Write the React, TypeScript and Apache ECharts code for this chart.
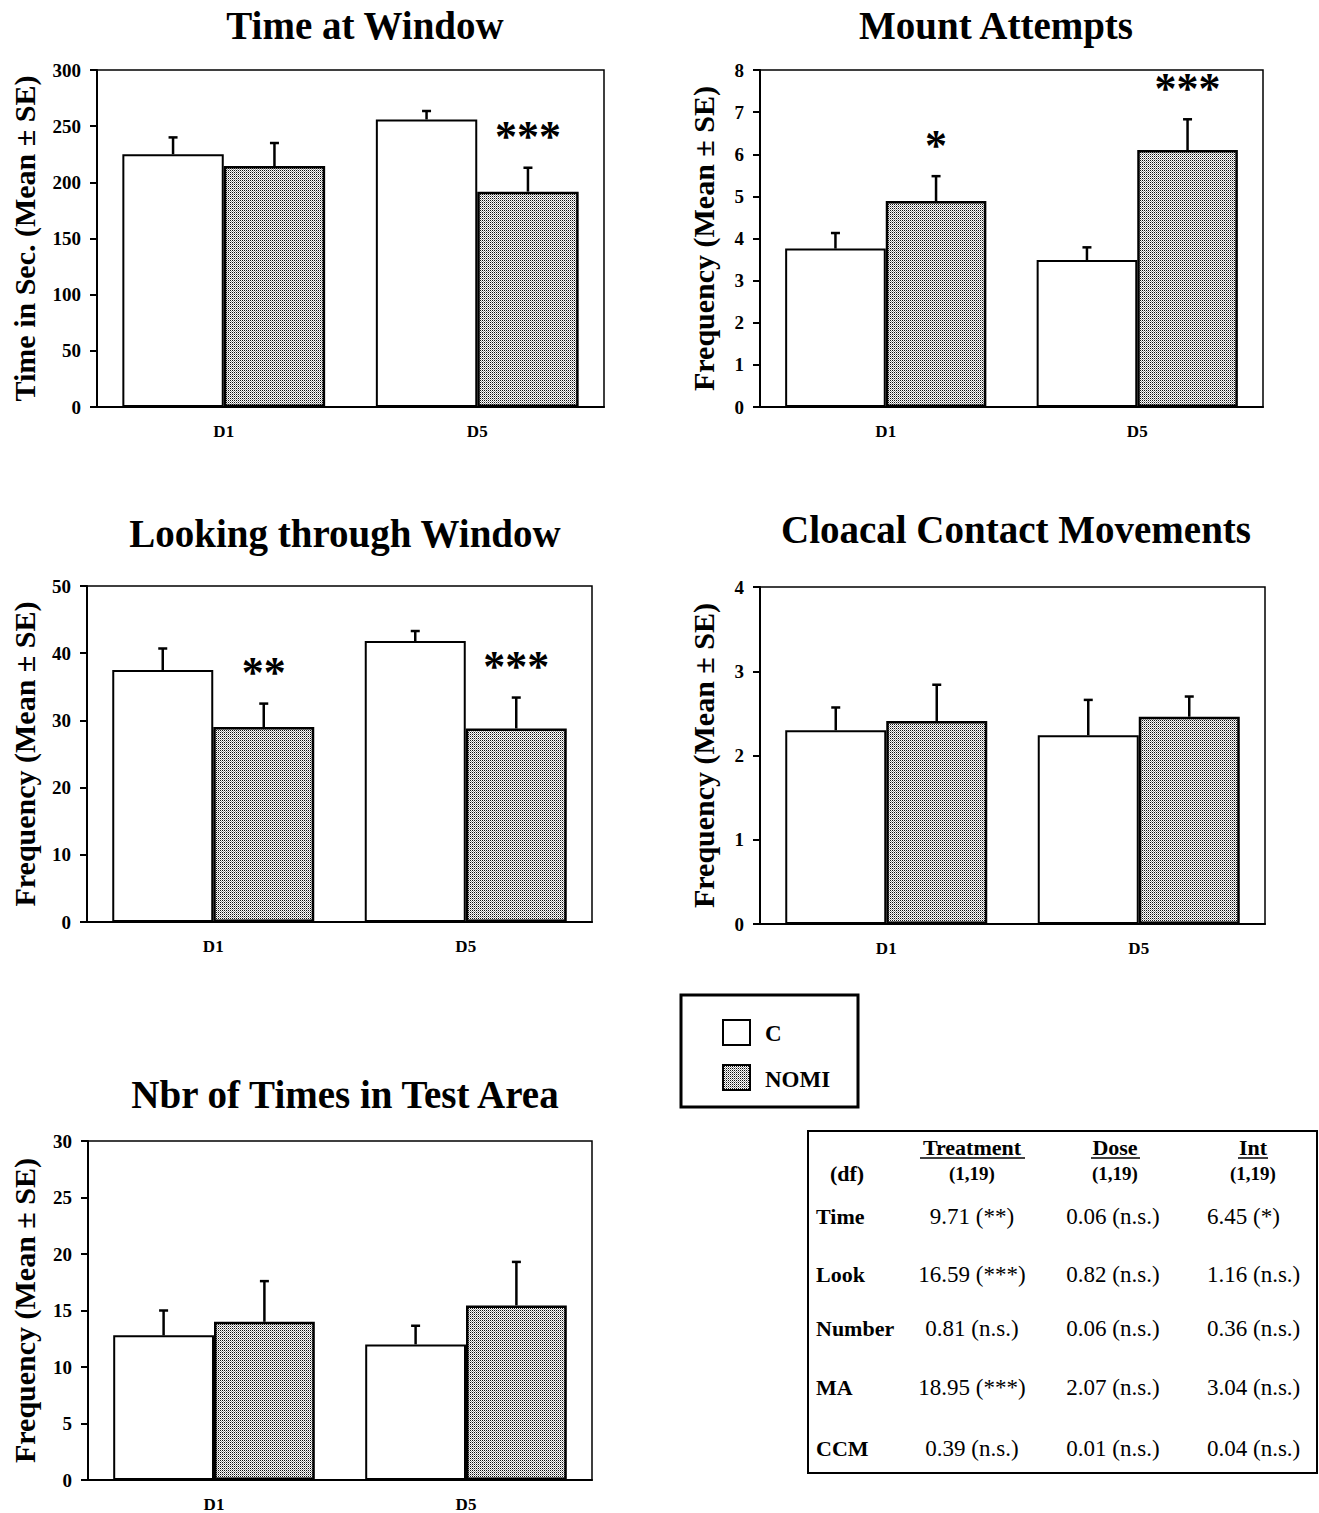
import React, { useEffect, useRef } from 'react';
import * as echarts from 'echarts';

const categories = ['D1', 'D5'];
const groups = ['C', 'NOMI'];

const panelTitles = [
  'Time at Window',
  'Mount Attempts',
  'Looking through Window',
  'Cloacal Contact Movements',
  'Nbr of Times in Test Area',
];
const yAxisNames = [
  'Time in Sec. (Mean ± SE)',
  'Frequency (Mean ± SE)',
  'Frequency (Mean ± SE)',
  'Frequency (Mean ± SE)',
  'Frequency (Mean ± SE)',
];
const yMax = [300, 8, 50, 4, 30];
const yStep = [50, 1, 10, 1, 5];

// Means and standard errors: [D1, D5]
const timeC = [225, 256];
const timeCse = [15, 7.5];
const timeN = [214.5, 191.7];
const timeNse = [20.5, 21.3];

const mountC = [3.76, 3.49];
const mountCse = [0.37, 0.3];
const mountN = [4.89, 6.1];
const mountNse = [0.59, 0.73];

const lookC = [37.5, 41.8];
const lookCse = [3.2, 1.5];
const lookN = [29.0, 28.8];
const lookNse = [3.5, 4.6];

const ccmC = [2.3, 2.24];
const ccmCse = [0.27, 0.42];
const ccmN = [2.41, 2.46];
const ccmNse = [0.43, 0.24];

const numC = [12.8, 12.0];
const numCse = [2.2, 1.65];
const numN = [14.0, 15.45];
const numNse = [3.6, 3.85];

const starsTime = ['', '***'];
const starsMount = ['*', '***'];
const starsLook = ['**', '***'];
const starsCcm = ['', ''];
const starsNum = ['', ''];

// Stats table
const tableCols = ['Treatment', 'Dose', 'Int'];
const tableDf = ['(1,19)', '(1,19)', '(1,19)'];
const tableRows = ['Time', 'Look', 'Number', 'MA', 'CCM'];
const treatmentVals = ['9.71 (**)', '16.59 (***)', '0.81 (n.s.)', '18.95 (***)', '0.39 (n.s.)'];
const doseVals = ['0.06 (n.s.)', '0.82 (n.s.)', '0.06 (n.s.)', '2.07 (n.s.)', '0.01 (n.s.)'];
const intVals = ['6.45 (*)', '1.16 (n.s.)', '0.36 (n.s.)', '3.04 (n.s.)', '0.04 (n.s.)'];

const panels = [
  { c: timeC, cse: timeCse, n: timeN, nse: timeNse, stars: starsTime },
  { c: mountC, cse: mountCse, n: mountN, nse: mountNse, stars: starsMount },
  { c: lookC, cse: lookCse, n: lookN, nse: lookNse, stars: starsLook },
  { c: ccmC, cse: ccmCse, n: ccmN, nse: ccmNse, stars: starsCcm },
  { c: numC, cse: numCse, n: numN, nse: numNse, stars: starsNum },
];

const SERIF = "'Liberation Serif', 'Times New Roman', 'DejaVu Serif', serif";

const gridBoxes = [
  { left: 97, top: 70, width: 507, height: 337 },
  { left: 760, top: 70, width: 503, height: 337 },
  { left: 87, top: 586, width: 505, height: 336 },
  { left: 760, top: 587, width: 505, height: 337 },
  { left: 88, top: 1141, width: 504, height: 339 },
];
const nameGaps = [58, 42, 48, 42, 49];
const titlePos = [
  [365, 25],
  [996, 25],
  [345, 533],
  [1016, 529],
  [345, 1094],
];

function makePattern(): HTMLCanvasElement {
  const cv = document.createElement('canvas');
  cv.width = 2;
  cv.height = 2;
  const ctx = cv.getContext('2d')!;
  ctx.fillStyle = '#ffffff';
  ctx.fillRect(0, 0, 2, 2);
  ctx.fillStyle = '#111111';
  ctx.fillRect(0, 0, 1, 1);
  ctx.fillStyle = '#9a9a9a';
  ctx.fillRect(1, 1, 1, 1);
  return cv;
}

export default function App() {
  const ref = useRef<HTMLDivElement>(null);

  useEffect(() => {
    document.body.style.margin = '0';
    if (!ref.current) return;
    const chart = echarts.init(ref.current, undefined, { renderer: 'svg' });
    const patternCanvas = makePattern();
    const patternFill: any = { image: patternCanvas, repeat: 'repeat' };

    const grid: any[] = [];
    const xAxis: any[] = [];
    const yAxis: any[] = [];
    const series: any[] = [];

    panels.forEach((p, i) => {
      grid.push({
        ...gridBoxes[i],
        show: true,
        borderColor: '#000',
        borderWidth: 1.5,
        backgroundColor: 'transparent',
      });
      xAxis.push({
        type: 'category',
        gridIndex: i,
        data: categories,
        axisLine: { lineStyle: { color: '#000', width: 2 } },
        axisTick: { alignWithLabel: true, length: 8, lineStyle: { color: '#000', width: 2 } },
        axisLabel: {
          color: '#000',
          fontFamily: SERIF,
          fontWeight: 'bold',
          fontSize: 17,
          margin: 16,
        },
      });
      yAxis.push({
        type: 'value',
        gridIndex: i,
        min: 0,
        max: yMax[i],
        interval: yStep[i],
        name: yAxisNames[i],
        nameLocation: 'middle',
        nameGap: nameGaps[i],
        nameTextStyle: {
          color: '#000',
          fontFamily: SERIF,
          fontWeight: 'bold',
          fontSize: 30,
        },
        splitLine: { show: false },
        axisLine: { show: true, lineStyle: { color: '#000', width: 2 } },
        axisTick: { show: true, length: 7, lineStyle: { color: '#000', width: 2 } },
        axisLabel: {
          color: '#000',
          fontFamily: SERIF,
          fontWeight: 'bold',
          fontSize: 19,
          margin: 16,
        },
      });
      series.push({
        type: 'bar',
        name: groups[0],
        xAxisIndex: i,
        yAxisIndex: i,
        data: p.c,
        barWidth: '40%',
        barGap: '0%',
        itemStyle: { color: '#fff', borderColor: '#000', borderWidth: 2 },
      });
      series.push({
        type: 'bar',
        name: groups[1],
        xAxisIndex: i,
        yAxisIndex: i,
        data: p.n,
        barWidth: '40%',
        barGap: '0%',
        itemStyle: { color: patternFill, borderColor: '#000', borderWidth: 2.5 },
      });
      const errData: any[] = [];
      p.c.forEach((v, k) => errData.push([k, v, p.cse[k], 0]));
      p.n.forEach((v, k) => errData.push([k, v, p.nse[k], 1]));
      const stars = p.stars;
      series.push({
        type: 'custom',
        xAxisIndex: i,
        yAxisIndex: i,
        data: errData,
        encode: { x: 0, y: 1 },
        z: 5,
        renderItem: (params: any, api: any) => {
          const cat = api.value(0);
          const mean = api.value(1);
          const se = api.value(2);
          const g = api.value(3);
          const base = api.coord([cat, mean]);
          const band = api.size([1, 0])[0];
          const x = base[0] + (g === 0 ? -0.2 : 0.2) * band;
          const top = api.coord([cat, mean + se])[1];
          const children: any[] = [
            {
              type: 'line',
              shape: { x1: x, y1: base[1], x2: x, y2: top },
              style: { stroke: '#000', lineWidth: 2.5 },
            },
            {
              type: 'line',
              shape: { x1: x - 4.5, y1: top, x2: x + 4.5, y2: top },
              style: { stroke: '#000', lineWidth: 2.5 },
            },
          ];
          const s = g === 1 ? stars[cat] : '';
          if (s) {
            children.push({
              type: 'text',
              style: {
                text: s,
                x: x,
                y: top - 31,
                fill: '#000',
                font: `bold 44px ${SERIF}`,
                align: 'center',
                verticalAlign: 'middle',
                textAlign: 'center',
                textVerticalAlign: 'middle',
              },
            });
          }
          return { type: 'group', children };
        },
      });
    });

    const graphic: any[] = [];
    panelTitles.forEach((t, i) => {
      graphic.push({
        type: 'text',
        x: titlePos[i][0],
        y: titlePos[i][1],
        style: {
          text: t,
          fill: '#000',
          font: `bold 39px ${SERIF}`,
          textAlign: 'center',
          textVerticalAlign: 'middle',
          align: 'center',
          verticalAlign: 'middle',
        },
      });
    });

    // Legend box
    graphic.push({
      type: 'rect',
      shape: { x: 681, y: 995, width: 177, height: 112 },
      style: { fill: 'none', stroke: '#000', lineWidth: 3 },
    });
    graphic.push({
      type: 'rect',
      shape: { x: 723, y: 1020, width: 27, height: 25 },
      style: { fill: '#fff', stroke: '#000', lineWidth: 2 },
    });
    graphic.push({
      type: 'rect',
      shape: { x: 723, y: 1065, width: 27, height: 25 },
      style: { fill: patternFill, stroke: '#000', lineWidth: 2 },
    });
    groups.forEach((g, k) => {
      graphic.push({
        type: 'text',
        x: 765,
        y: k === 0 ? 1033 : 1079,
        style: {
          text: g,
          fill: '#000',
          font: `bold 23px ${SERIF}`,
          textAlign: 'left',
          textVerticalAlign: 'middle',
          align: 'left',
          verticalAlign: 'middle',
        },
      });
    });

    // Stats table
    graphic.push({
      type: 'rect',
      shape: { x: 808, y: 1131, width: 509, height: 342 },
      style: { fill: 'none', stroke: '#000', lineWidth: 2 },
    });
    const colCenters = [972, 1115, 1253];
    const underline = [
      [920, 1025],
      [1091, 1140],
      [1238, 1268],
    ];
    tableCols.forEach((c, k) => {
      graphic.push({
        type: 'text',
        x: colCenters[k],
        y: 1147,
        style: {
          text: c,
          fill: '#000',
          font: `bold 22px ${SERIF}`,
          textAlign: 'center',
          textVerticalAlign: 'middle',
          align: 'center',
          verticalAlign: 'middle',
        },
      });
      graphic.push({
        type: 'line',
        shape: { x1: underline[k][0], y1: 1158, x2: underline[k][1], y2: 1158 },
        style: { stroke: '#000', lineWidth: 1.5 },
      });
      graphic.push({
        type: 'text',
        x: colCenters[k],
        y: 1173,
        style: {
          text: tableDf[k],
          fill: '#000',
          font: `bold 19px ${SERIF}`,
          textAlign: 'center',
          textVerticalAlign: 'middle',
          align: 'center',
          verticalAlign: 'middle',
        },
      });
    });
    graphic.push({
      type: 'text',
      x: 847,
      y: 1173,
      style: {
        text: '(df)',
        fill: '#000',
        font: `bold 22px ${SERIF}`,
        textAlign: 'center',
        textVerticalAlign: 'middle',
        align: 'center',
        verticalAlign: 'middle',
      },
    });
    const rowY = [1216, 1274, 1328, 1387, 1448];
    tableRows.forEach((r, k) => {
      graphic.push({
        type: 'text',
        x: 816,
        y: rowY[k],
        style: {
          text: r,
          fill: '#000',
          font: `bold 22px ${SERIF}`,
          textAlign: 'left',
          textVerticalAlign: 'middle',
          align: 'left',
          verticalAlign: 'middle',
        },
      });
      const vals = [treatmentVals[k], doseVals[k], intVals[k]];
      const xs = [972, 1113, 1207];
      const al = ['center', 'center', 'left'];
      vals.forEach((v, j) => {
        graphic.push({
          type: 'text',
          x: xs[j],
          y: rowY[k],
          style: {
            text: v,
            fill: '#000',
            font: `23px ${SERIF}`,
            textAlign: al[j],
            textVerticalAlign: 'middle',
            align: al[j],
            verticalAlign: 'middle',
          },
        });
      });
    });

    chart.setOption({
      animation: false,
      backgroundColor: '#fff',
      grid,
      xAxis,
      yAxis,
      series,
      graphic,
    });

    return () => {
      chart.dispose();
    };
  }, []);

  return <div ref={ref} style={{ width: 1319, height: 1513 }} />;
}
